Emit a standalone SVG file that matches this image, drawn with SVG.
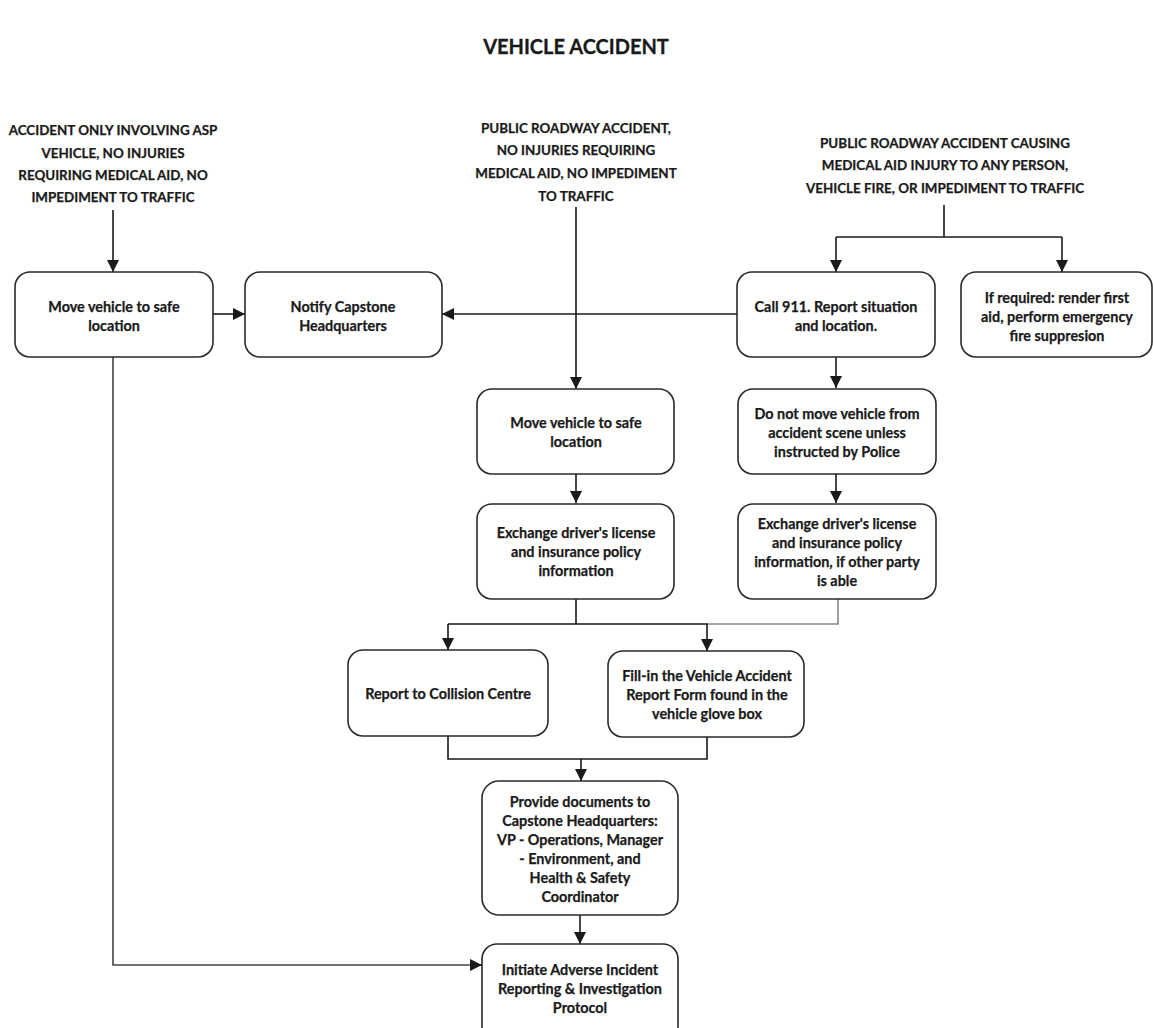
<svg xmlns="http://www.w3.org/2000/svg" width="1153" height="1028" viewBox="0 0 1153 1028">
<style>
.box{fill:#fff;stroke:#2a2a2a;stroke-width:1.6}
.t{font-family:Lato,"Open Sans","Liberation Sans",sans-serif;font-weight:bold;font-size:14.4px;fill:#1a1a1a;text-anchor:middle;stroke:#1a1a1a;stroke-width:0.25}
.h{font-family:Lato,"Open Sans","Liberation Sans",sans-serif;font-weight:bold;font-size:13.4px;fill:#1a1a1a;text-anchor:middle;stroke:#1a1a1a;stroke-width:0.25}
.title{font-family:Lato,"Open Sans","Liberation Sans",sans-serif;font-weight:bold;font-size:20px;fill:#1a1a1a;text-anchor:middle;stroke:#1a1a1a;stroke-width:0.3}
.c{fill:none;stroke:#1a1a1a;stroke-width:1.6}
.g{fill:none;stroke:#888;stroke-width:1.6}
</style>
<defs>
<marker id="ah" viewBox="0 0 10 10" refX="10" refY="5" markerWidth="12" markerHeight="12" orient="auto" markerUnits="userSpaceOnUse">
<path d="M0,0 L10,5 L0,10 z" fill="#1a1a1a"/>
</marker>
</defs>
<rect width="1153" height="1028" fill="#fff"/>
<text class="title" x="576" y="54">VEHICLE ACCIDENT</text>

<g id="src1">
<text class="h" x="113" y="135">ACCIDENT ONLY INVOLVING ASP</text>
<text class="h" x="113" y="158">VEHICLE, NO INJURIES</text>
<text class="h" x="113" y="180">REQUIRING MEDICAL AID, NO</text>
<text class="h" x="113" y="202">IMPEDIMENT TO TRAFFIC</text>
</g>
<g id="src2">
<text class="h" x="576" y="133">PUBLIC ROADWAY ACCIDENT,</text>
<text class="h" x="576" y="155">NO INJURIES REQUIRING</text>
<text class="h" x="576" y="178">MEDICAL AID, NO IMPEDIMENT</text>
<text class="h" x="576" y="201">TO TRAFFIC</text>
</g>
<g id="src3">
<text class="h" x="945" y="148">PUBLIC ROADWAY ACCIDENT CAUSING</text>
<text class="h" x="945" y="170">MEDICAL AID INJURY TO ANY PERSON,</text>
<text class="h" x="945" y="193">VEHICLE FIRE, OR IMPEDIMENT TO TRAFFIC</text>
</g>

<g id="connectors">
<path class="c" d="M113,210 V272" marker-end="url(#ah)"/>
<path class="c" d="M576,207 V389" marker-end="url(#ah)"/>
<path class="c" d="M944,205 V237 M836,237 H1062"/>
<path class="c" d="M836,237 V272" marker-end="url(#ah)"/>
<path class="c" d="M1062,237 V272" marker-end="url(#ah)"/>
<path class="c" d="M213,314 H245" marker-end="url(#ah)"/>
<path class="c" d="M737,314 H442" marker-end="url(#ah)"/>
<path class="c" d="M113,357 V965 H482" style="stroke:#444"/>
<path class="c" d="M470,965 H482" marker-end="url(#ah)"/>
<path class="c" d="M836,357 V388" marker-end="url(#ah)"/>
<path class="c" d="M836,474 V503" marker-end="url(#ah)"/>
<path class="c" d="M576,474 V503" marker-end="url(#ah)"/>
<path class="c" d="M576,599 V624 M448,624 H708"/>
<path class="g" d="M838,599 V624 H708"/>
<path class="c" d="M448,624 V650" marker-end="url(#ah)"/>
<path class="c" d="M707,624 V651" marker-end="url(#ah)"/>
<path class="c" d="M448,736 V759 H707 V737"/>
<path class="c" d="M581,759 V781" marker-end="url(#ah)"/>
<path class="c" d="M580,915 V944" marker-end="url(#ah)"/>
</g>

<g id="n1">
<rect class="box" x="15" y="272" width="198" height="85" rx="15"/>
<text class="t" x="114" y="312">Move vehicle to safe</text>
<text class="t" x="114" y="331">location</text>
</g>
<g id="n2">
<rect class="box" x="245" y="272" width="197" height="85" rx="15"/>
<text class="t" x="343" y="312">Notify Capstone</text>
<text class="t" x="343" y="331">Headquarters</text>
</g>
<g id="n3">
<rect class="box" x="737" y="272" width="198" height="85" rx="15"/>
<text class="t" x="836" y="312">Call 911.  Report situation</text>
<text class="t" x="836" y="331">and location.</text>
</g>
<g id="n4">
<rect class="box" x="961" y="272" width="191" height="85" rx="15"/>
<text class="t" x="1057" y="303">If required: render first</text>
<text class="t" x="1057" y="322">aid, perform emergency</text>
<text class="t" x="1057" y="341">fire suppresion</text>
</g>
<g id="n5">
<rect class="box" x="477" y="389" width="197" height="85" rx="15"/>
<text class="t" x="576" y="428">Move vehicle to safe</text>
<text class="t" x="576" y="447">location</text>
</g>
<g id="n6">
<rect class="box" x="738" y="389" width="198" height="85" rx="15"/>
<text class="t" x="837" y="419">Do not move vehicle from</text>
<text class="t" x="837" y="438">accident scene unless</text>
<text class="t" x="837" y="457">instructed by Police</text>
</g>
<g id="n7">
<rect class="box" x="477" y="504" width="197" height="95" rx="15"/>
<text class="t" x="576" y="538">Exchange driver's license</text>
<text class="t" x="576" y="557">and insurance policy</text>
<text class="t" x="576" y="576">information</text>
</g>
<g id="n8">
<rect class="box" x="738" y="504" width="198" height="95" rx="15"/>
<text class="t" x="837" y="529">Exchange driver's license</text>
<text class="t" x="837" y="548">and insurance policy</text>
<text class="t" x="837" y="567">information, if other party</text>
<text class="t" x="837" y="586">is able</text>
</g>
<g id="n9">
<rect class="box" x="348" y="650" width="200" height="86" rx="15"/>
<text class="t" x="448" y="699">Report to Collision Centre</text>
</g>
<g id="n10">
<rect class="box" x="608" y="651" width="196" height="86" rx="15"/>
<text class="t" x="707" y="681">Fill-in the Vehicle Accident</text>
<text class="t" x="707" y="700">Report Form found in the</text>
<text class="t" x="707" y="719">vehicle glove box</text>
</g>
<g id="n11">
<rect class="box" x="482" y="781" width="196" height="134" rx="17"/>
<text class="t" x="580" y="807">Provide documents to</text>
<text class="t" x="580" y="826">Capstone Headquarters:</text>
<text class="t" x="580" y="845">VP - Operations, Manager</text>
<text class="t" x="580" y="864">- Environment, and</text>
<text class="t" x="580" y="883">Health &amp; Safety</text>
<text class="t" x="580" y="902">Coordinator</text>
</g>
<g id="n12">
<rect class="box" x="482" y="944" width="196" height="98" rx="15"/>
<text class="t" x="580" y="975">Initiate Adverse Incident</text>
<text class="t" x="580" y="994">Reporting &amp; Investigation</text>
<text class="t" x="580" y="1013">Protocol</text>
</g>
</svg>
